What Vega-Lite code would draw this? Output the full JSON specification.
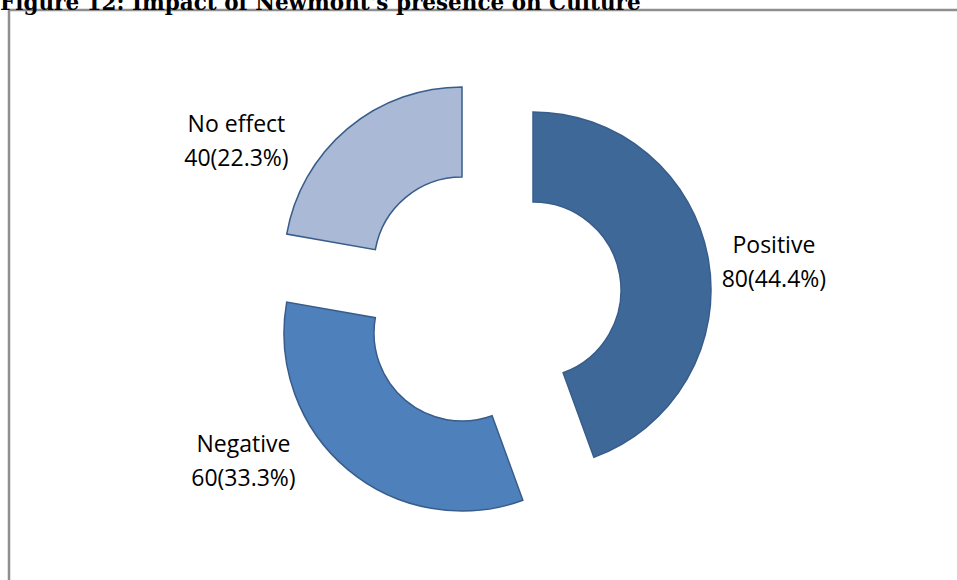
{
  "$schema": "https://vega.github.io/schema/vega-lite/v6.json",
  "autosize": "none",
  "width": 962,
  "height": 578,
  "padding": {"left": 9, "top": 10, "right": 0, "bottom": 0},
  "background": "white",
  "view": {"stroke": "#8f8f8f", "strokeWidth": 2.5},
  "title": {
    "text": "Figure 12: Impact of Newmont's presence on Culture",
    "anchor": "start",
    "frame": "group",
    "dx": -9,
    "dy": 25,
    "offset": 4,
    "baseline": "alphabetic",
    "font": "DejaVu Serif",
    "fontSize": 21.5,
    "fontWeight": "bold",
    "color": "#000000"
  },
  "data": {
    "values": [
      {"category": "Positive", "count": 80, "pct": 44.4},
      {"category": "Negative", "count": 60, "pct": 33.3},
      {"category": "No effect", "count": 40, "pct": 22.3}
    ]
  },
  "transform": [
    {"stack": "count", "groupby": [], "as": ["t0", "t1"]},
    {"calculate": "(datum.t0 + datum.t1) / 2", "as": "mid"},
    {"calculate": "datum.category + '\\n' + datum.count + '(' + datum.pct + '%)'", "as": "label"}
  ],
  "layer": [
    {
      "transform": [{"filter": "datum.category === 'Positive'"}],
      "layer": [
        {
          "mark": {"type": "arc", "outerRadius": 178, "innerRadius": 88, "stroke": "#385d8a", "strokeWidth": 1.5, "xOffset": 43, "yOffset": -9},
          "encoding": {
            "theta": {"field": "t0", "type": "quantitative", "stack": null, "scale": {"domain": [0, 180]}},
            "theta2": {"field": "t1"},
            "color": {"field": "category", "type": "nominal", "legend": null, "scale": {"domain": ["Positive", "Negative", "No effect"], "range": ["#3e6898", "#4e80bc", "#a9b9d6"]}}
          }
        },
        {
          "mark": {"type": "text", "radius": 270, "xOffset": 18, "yOffset": -6, "lineBreak": "\n", "font": "Open Sans", "fontSize": 23, "lineHeight": 34, "align": "center", "baseline": "middle", "color": "#000000"},
          "encoding": {
            "theta": {"field": "mid", "type": "quantitative", "stack": null},
            "text": {"field": "label"}
          }
        }
      ]
    },
    {
      "transform": [{"filter": "datum.category === 'Negative'"}],
      "layer": [
        {
          "mark": {"type": "arc", "outerRadius": 178, "innerRadius": 88, "stroke": "#385d8a", "strokeWidth": 1.5, "xOffset": -28, "yOffset": 34},
          "encoding": {
            "theta": {"field": "t0", "type": "quantitative", "stack": null},
            "theta2": {"field": "t1"},
            "color": {"field": "category", "type": "nominal", "legend": null}
          }
        },
        {
          "mark": {"type": "text", "radius": 270, "xOffset": -73, "yOffset": -61, "lineBreak": "\n", "font": "Open Sans", "fontSize": 23, "lineHeight": 34, "align": "center", "baseline": "middle", "color": "#000000"},
          "encoding": {
            "theta": {"field": "mid", "type": "quantitative", "stack": null},
            "text": {"field": "label"}
          }
        }
      ]
    },
    {
      "transform": [{"filter": "datum.category === 'No effect'"}],
      "layer": [
        {
          "mark": {"type": "arc", "outerRadius": 178, "innerRadius": 88, "stroke": "#385d8a", "strokeWidth": 1.5, "xOffset": -28, "yOffset": -34},
          "encoding": {
            "theta": {"field": "t0", "type": "quantitative", "stack": null},
            "theta2": {"field": "t1"},
            "color": {"field": "category", "type": "nominal", "legend": null}
          }
        },
        {
          "mark": {"type": "text", "radius": 270, "xOffset": -80, "yOffset": 33, "lineBreak": "\n", "font": "Open Sans", "fontSize": 23, "lineHeight": 34, "align": "center", "baseline": "middle", "color": "#000000"},
          "encoding": {
            "theta": {"field": "mid", "type": "quantitative", "stack": null},
            "text": {"field": "label"}
          }
        }
      ]
    }
  ]
}
